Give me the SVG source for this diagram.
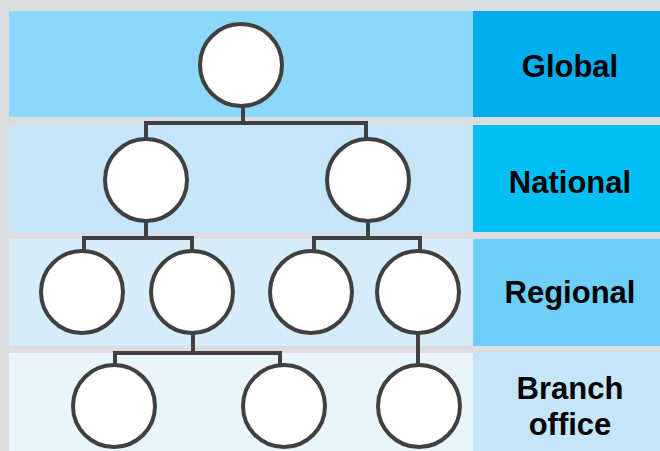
<svg xmlns="http://www.w3.org/2000/svg" width="660" height="451" viewBox="0 0 660 451">
<style>
.node{fill:#ffffff;stroke:#404041;stroke-width:4}
.conn{fill:none;stroke:#404041;stroke-width:4;stroke-linejoin:miter;stroke-linecap:butt}
.lbl{font-family:"Liberation Sans",Arial,sans-serif;font-weight:bold;font-size:31px;fill:#000000;text-anchor:middle}
</style>
<rect x="0" y="0" width="660" height="451" fill="#dcdde0"/>
<g id="bands">
<rect x="9" y="11" width="464" height="106" fill="#8dd8f8"/>
<rect x="473" y="11" width="187" height="106" fill="#00aeef"/>
<rect x="9" y="125" width="464" height="107" fill="#c5e6f8"/>
<rect x="473" y="125" width="187" height="107" fill="#00bff3"/>
<rect x="9" y="239" width="464" height="107" fill="#d6ecf9"/>
<rect x="473" y="239" width="187" height="107" fill="#6dcff6"/>
<rect x="9" y="353" width="464" height="98" fill="#e8f5fd"/>
<rect x="473" y="353" width="187" height="98" fill="#c5e6f8"/>
</g>
<g id="labels">
<text class="lbl" x="570" y="77">Global</text>
<text class="lbl" x="570" y="193">National</text>
<text class="lbl" x="570" y="303">Regional</text>
<text class="lbl" x="570" y="399">Branch</text>
<text class="lbl" x="570" y="435">office</text>
</g>
<g id="connectors">
<path class="conn" d="M243 105V123M146 139V123H366V139"/>
<path class="conn" d="M146 221V238M84 252V238H192V252"/>
<path class="conn" d="M368 221V238M314 252V238H420V252"/>
<path class="conn" d="M193 334V353M115 366V353H280V366"/>
<path class="conn" d="M418 334V366"/>
</g>
<g id="n-global"><circle class="node" cx="241" cy="65" r="41"/></g>
<g id="n-national-1"><circle class="node" cx="146" cy="180" r="41"/></g>
<g id="n-national-2"><circle class="node" cx="368" cy="180" r="41"/></g>
<g id="n-regional-1"><circle class="node" cx="82" cy="292" r="41"/></g>
<g id="n-regional-2"><circle class="node" cx="192" cy="292" r="41"/></g>
<g id="n-regional-3"><circle class="node" cx="311" cy="292" r="41"/></g>
<g id="n-regional-4"><circle class="node" cx="418" cy="292" r="41"/></g>
<g id="n-branch-1"><circle class="node" cx="114" cy="406" r="41"/></g>
<g id="n-branch-2"><circle class="node" cx="284" cy="406" r="41"/></g>
<g id="n-branch-3"><circle class="node" cx="419" cy="406" r="41"/></g>
</svg>
